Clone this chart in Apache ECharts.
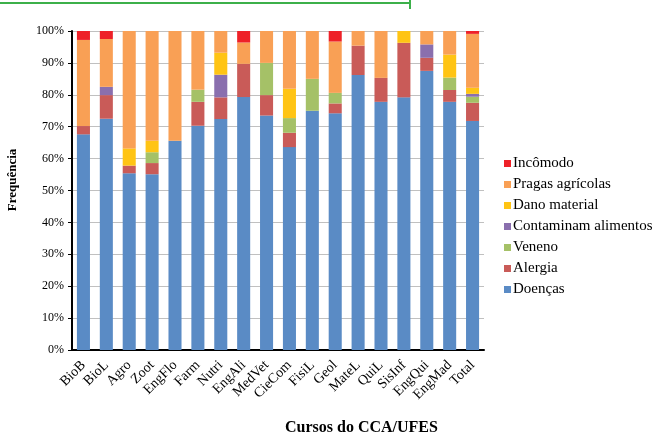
<!DOCTYPE html>
<html><head><meta charset="utf-8">
<script src="https://cdn.jsdelivr.net/npm/echarts@6/dist/echarts.min.js"></script>
<style>html,body{margin:0;padding:0;background:#fff}#c{width:659px;height:435px}</style>
</head><body><div id="c"></div>
<script>
var categories = ['BioB','BioL','Agro','Zoot','EngFlo','Farm','Nutri','EngAli','MedVet','CieCom','FisiL','Geol','MateL','QuiL','SisInf','EngQui','EngMad','Total'];
var doencas   = [67.6,72.5,55.4,55.1,65.6,70.3,72.4,79.3,73.5,63.6,75.0,74.2,86.2,77.8,79.2,87.5,77.8,71.8];
var alergia   = [2.6, 7.4, 2.4, 3.5, 0,   7.5, 6.8,10.4, 6.4, 4.5, 0,   3.1, 9.2, 7.5,17.1, 4.1, 3.7, 5.7];
var veneno    = [0,   0,   0,   3.4, 0,   3.8, 0,   0,  10.1, 4.6,10.0, 3.3, 0,   0,   0,   0,   3.9, 1.9];
var contam    = [0,   2.6, 0,   0,   0,   0,   7.1, 0,   0,   0,   0,   0,   0,   0,   0,   4.2, 0,   0.9];
var dano      = [0,   0,   5.4, 3.6, 0,   0,   6.9, 0,   0,   9.2, 0,   0,   0,   0,   3.7, 0,   7.2, 1.9];
var pragas    = [27.0,15.0,36.8,34.4,34.4,18.4,6.8,6.7,10.0,18.1,15.0,16.1,4.6,14.7, 0,   4.2, 7.4,16.9];
var incomodo  = [2.8, 2.5, 0,   0,   0,   0,   0,   3.6, 0,   0,   0,   3.3, 0,   0,   0,   0,   0,   0.9];
var seriesNames = ['Doenças','Alergia','Veneno','Contaminam alimentos','Dano material','Pragas agrícolas','Incômodo'];
var yTicks = [0,10,20,30,40,50,60,70,80,90,100];

var colors = ['#5a8bc5','#c95b58','#a5c167','#8a6fae','#ffc414','#f9a055','#ee2128'];
var values = [doencas, alergia, veneno, contam, dano, pragas, incomodo];
var serif = 'Liberation Serif';
var series = seriesNames.map(function(n,i){
  return {name:n,type:'bar',stack:'s',data:values[i],barCategoryGap:'43%',
    itemStyle:{color:colors[i]},emphasis:{disabled:true}};
});
var chart = echarts.init(document.getElementById('c'));
chart.setOption({
  animation:false,
  color:colors,
  grid:{left:72,right:175,top:31,bottom:85},
  xAxis:{type:'category',data:categories,
    axisLine:{lineStyle:{color:'#000',width:2}},
    axisTick:{show:false},
    axisLabel:{rotate:45,interval:0,fontFamily:serif,fontSize:14,color:'#000',margin:13}},
  yAxis:{type:'value',min:yTicks[0],max:yTicks[yTicks.length-1],interval:10,
    axisLine:{show:true,lineStyle:{color:'#000',width:2}},
    axisTick:{show:true,length:4,lineStyle:{color:'#000'}},
    splitLine:{lineStyle:{color:'#c0c0c0',width:1}},
    axisLabel:{formatter:function(v){return v+'%';},fontFamily:serif,fontSize:12,color:'#000',margin:8}},
  legend:{orient:'vertical',left:499,top:151,itemWidth:7,itemHeight:7,itemGap:6,
    data:seriesNames.slice().reverse(),
    icon:'rect',
    textStyle:{fontFamily:serif,fontSize:15,color:'#000',padding:[0,0,0,-3]}},
  graphic:[
    {type:'line',shape:{x1:0,y1:3,x2:410,y2:3},style:{stroke:'#3cb04a',lineWidth:2}},
    {type:'line',shape:{x1:410,y1:0,x2:410,y2:9},style:{stroke:'#3cb04a',lineWidth:2}},
    {type:'text',left:285,top:420,style:{text:'Cursos do CCA/UFES',font:'bold 16px "Liberation Serif"',fill:'#000'}},
    {type:'text',x:13,y:180,rotation:Math.PI/2,style:{text:'Frequência',font:'bold 13px "Liberation Serif"',fill:'#000',align:'center',verticalAlign:'middle'}}
  ],
  series:series
});
</script></body></html>
